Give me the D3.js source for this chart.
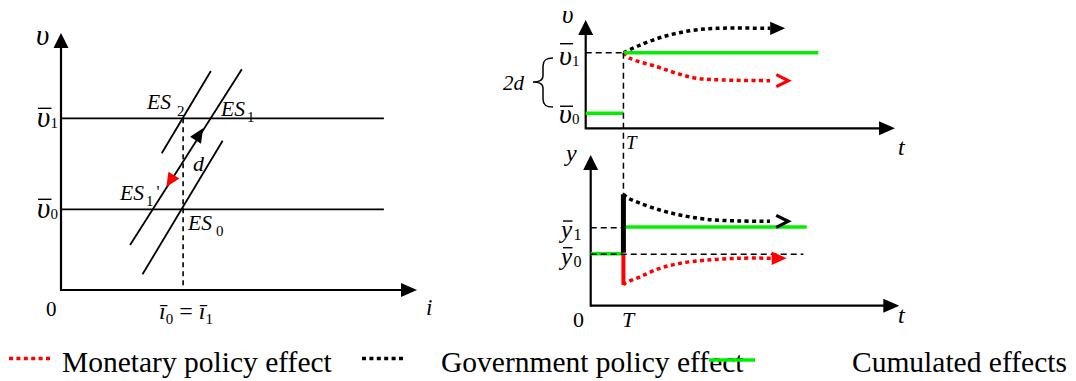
<!DOCTYPE html>
<html><head><meta charset="utf-8">
<script src="https://cdn.jsdelivr.net/npm/d3@7"></script>
<style>body{margin:0;background:#fff} svg{display:block}</style>
</head><body>
<svg id="c" width="1076" height="381"></svg>
<script>
// ---------------- DATA ----------------
// Left panel (i, v) in abstract units 0..10
const leftLevels = [ {name:"0", v:3.14}, {name:"1", v:6.68} ];
const leftLevelEnd = 9.07;
const iBar = 3.43;
const esLines = [
  {name:"ES2", p:[[2.83,5.32],[4.21,8.52]]},
  {name:"ES1", p:[[1.94,1.75],[5.08,8.59]]},
  {name:"ES0", p:[[2.29,0.61],[4.54,5.81]]}
];
const esArrows = [
  {line:"ES1", tip:[3.99,6.29], dir: 1, color:"#000"},
  {line:"ES1", tip:[2.96,4.01], dir:-1, color:"#ff0000"}
];

// Top right panel (t, v)
const topT = 1.22;
const topLevels = {v0:1.39, v1:6.98};
const topGreenEnd = 7.52;
const topGov = [[1.22,6.98],[1.76,7.69],[2.51,8.46],[3.37,9.01],[4.24,9.23],[5.96,9.23]];
const topGovTip = [6.45,9.23];
const topMon = [[1.22,6.98],[1.43,6.46],[2.30,5.69],[2.94,5.08],[3.59,4.62],[4.45,4.46],[5.96,4.40]];
const topMonTip = [6.55,4.40];

// Bottom right panel (t, y)
const botT = 1.06;
const botLevels = {y0:3.45, y1:5.22};
const botGreenEnd = 7.0;
const botDashEnd = 6.89;
const botPeak = 7.39;
const botTrough = 1.37;
const botGov = [[1.06,7.39],[1.22,7.13],[1.60,6.80],[2.24,6.35],[2.89,6.02],[3.76,5.73],[4.84,5.62],[5.81,5.60]];
const botGovTip = [6.40,5.60];
const botMon = [[1.06,1.37],[1.11,1.49],[1.60,1.92],[2.24,2.48],[2.89,2.81],[3.76,3.03],[4.84,3.15],[5.87,3.15]];
const botMonTip = [6.35,3.15];

const legendLabels = ["Monetary policy effect", "Government policy effect", "Cumulated effects"];
const legendColors = ["#ff0000", "#000", "#00f000"];
const legendDashed = [true, true, false];

// ---------------- SETUP ----------------
const svg = d3.select("#c");
const RED = "#ff0000", GREEN = "#00f000", BLK = "#000";
const DOT = "4,3.4";
const xL = d3.scaleLinear().domain([0,10]).range([61,417]);
const yL = d3.scaleLinear().domain([0,10]).range([290,33]);
const xT = d3.scaleLinear().domain([0,10]).range([585.7,895]);
const yT = d3.scaleLinear().domain([0,10]).range([128.3,20]);
const xB = d3.scaleLinear().domain([0,10]).range([590.7,899.3]);
const yB = d3.scaleLinear().domain([0,10]).range([305.7,155]);

function txt(x, y, size, str, italic) {
  const t = svg.append("text").attr("x", x).attr("y", y).attr("font-size", size)
    .style("font-family", "'Liberation Serif'");
  if (italic) t.attr("font-style", "italic");
  return t.text(str);
}
function seg(x1, y1, x2, y2, color, w, dash) {
  return svg.append("line").attr("x1", x1).attr("y1", y1).attr("x2", x2).attr("y2", y2)
    .attr("stroke", color).attr("stroke-width", w).attr("stroke-dasharray", dash || null);
}
const bars = [];
function barSym(x, base, letter, sub, o) {
  txt(x, base, o.size, letter, true);
  const w = o.size * o.wf;
  txt(x + w + (o.subDx||0), base + (o.subDy||0), o.subSize, sub, false);
  bars.push([x + (o.barL||1), base - o.barH, x + w + (o.barR||0)]);
}

// ---------------- TEXTS (first) ----------------
legendLabels.forEach((s, i) => txt([62, 441, 852][i], 372, 29.5, s, false));
txt(36, 45, 29, "υ", true);
leftLevels.forEach(l => barSym(37, yL(l.v) + 9, "υ", l.name, {size:29, wf:0.5, subSize:15, subDx:-1, subDy:1, barH:19}));
txt(46, 316, 21, "0", false);
txt(426, 315, 23, "i", true);
{
  const t = svg.append("text").attr("x", xL(iBar) - 24).attr("y", 319).attr("font-size", 24)
    .style("font-family", "'Liberation Serif'");
  t.append("tspan").attr("font-style","italic").text("ī");
  t.append("tspan").attr("font-size", 15).attr("dy", 5).text("0");
  t.append("tspan").attr("dy", -5).text(" = ");
  t.append("tspan").attr("font-style","italic").text("ī");
  t.append("tspan").attr("font-size", 15).attr("dy", 5).text("1");
}
function esLabel(x, y, sub, extra) {
  const t = svg.append("text").attr("x", x).attr("y", y).attr("font-size", 21.5)
    .style("font-family", "'Liberation Serif'");
  t.append("tspan").attr("font-style","italic").text("ES");
  t.append("tspan").attr("font-size", 15).attr("dx", sub.dx).attr("dy", sub.dy).text(sub.t);
  if (extra) t.append("tspan").attr("font-size", 17).attr("dx", 3).attr("dy", -9).text(extra);
}
esLabel(xL(iBar) - 36, yL(leftLevels[1].v) - 9, {t:"2", dx:6, dy:7});
esLabel(221, yL(leftLevels[1].v) - 2, {t:"1", dx:2, dy:6});
esLabel(120, yL(leftLevels[0].v) - 9, {t:"1", dx:2, dy:6}, "'");
esLabel(xL(iBar) + 5, yL(leftLevels[0].v) + 21, {t:"0", dx:4, dy:6});
txt(193, 171, 22, "d", true);

txt(562, 23, 25, "υ", true);
barSym(559, yT(topLevels.v1) + 12, "υ", "1", {size:28, wf:0.5, subSize:15, subDx:-1, subDy:1, barH:21});
barSym(559, yT(topLevels.v0) + 10, "υ", "0", {size:28, wf:0.5, subSize:15, subDx:-1, subDy:1, barH:17});
txt(503, 90, 21, "2d", true);
txt(626, 149, 19, "T", true);
txt(898, 155, 24, "t", true);

txt(566, 161, 24, "y", true);
barSym(561, yB(botLevels.y1) + 11, "y", "1", {size:25, wf:0.46, subSize:16, subDx:1, subDy:2, barH:17, barL:2});
barSym(561, yB(botLevels.y0) + 11, "y", "0", {size:25, wf:0.46, subSize:16, subDx:1, subDy:2, barH:17, barL:2});
txt(573, 327, 22, "0", false);
txt(622, 327, 22, "T", true);
txt(898, 323, 24, "t", true);

// ---------------- SHAPES ----------------
bars.forEach(b => seg(b[0], b[1], b[2], b[1], BLK, 1.4));

function tri(tip, from, len, hw, color, open) {
  const dx = tip[0]-from[0], dy = tip[1]-from[1], L = Math.hypot(dx,dy);
  const ux = dx/L, uy = dy/L, nx = -uy, ny = ux;
  const bx = tip[0]-ux*len, by = tip[1]-uy*len;
  const a = [bx+nx*hw, by+ny*hw], b = [bx-nx*hw, by-ny*hw];
  if (open) {
    svg.append("path").attr("d", `M${a}L${tip}L${b}`).attr("fill","none")
      .attr("stroke", color).attr("stroke-width", 3.2).attr("stroke-linejoin","miter");
  } else {
    svg.append("path").attr("d", `M${tip}L${a}L${b}Z`).attr("fill", color);
  }
}
function axisLines(xs, ys) {
  const x0 = xs.range()[0], x1 = xs.range()[1], y0 = ys.range()[0], y1 = ys.range()[1];
  seg(x0, y0, x1 - 4, y0, BLK, 2.2);
  seg(x0, y0 + 1, x0, y1 + 4, BLK, 2.2);
  tri([x1, y0], [x0, y0], 16, 7, BLK, false);
  tri([x0, y1], [x0, y0], 15, 7.5, BLK, false);
}

// Left panel
axisLines(xL, yL);
leftLevels.forEach(l => seg(xL(0), yL(l.v), xL(leftLevelEnd), yL(l.v), BLK, 1.8));
seg(xL(iBar), yL(leftLevels[1].v), xL(iBar), yL(0), BLK, 1.6, "5,4");
const lineGen = d3.line().x(d => xL(d[0])).y(d => yL(d[1]));
esLines.forEach(e => {
  svg.append("path").attr("d", lineGen(e.p)).attr("stroke", BLK).attr("stroke-width", 1.8).attr("fill","none");
});
esArrows.forEach(a => {
  const ln = esLines.find(e => e.name === a.line).p;
  const dxp = xL(ln[1][0]) - xL(ln[0][0]), dyp = yL(ln[1][1]) - yL(ln[0][1]);
  const tip = [xL(a.tip[0]), yL(a.tip[1])];
  const from = [tip[0] - a.dir*dxp, tip[1] - a.dir*dyp];
  tri(tip, from, 14, 6.5, a.color, false);
});

// Top right panel
axisLines(xT, yT);
const lT = d3.line().x(d => xT(d[0])).y(d => yT(d[1])).curve(d3.curveCatmullRom);
seg(xT(0), yT(topLevels.v1), xT(topT), yT(topLevels.v1), BLK, 1.5, "6,4");
seg(xT(0), yT(topLevels.v0), xT(topT), yT(topLevels.v0), GREEN, 3.5);
svg.append("path").attr("d", lT(topGov)).attr("fill","none").attr("stroke", BLK).attr("stroke-width", 3.5).attr("stroke-dasharray", DOT);
svg.append("path").attr("d", lT(topMon)).attr("fill","none").attr("stroke", RED).attr("stroke-width", 3.5).attr("stroke-dasharray", DOT);
seg(xT(topT), yT(topLevels.v1), xT(topGreenEnd), yT(topLevels.v1), GREEN, 3.5);
tri([xT(topGovTip[0]), yT(topGovTip[1])], [xT(topGov[5][0]), yT(topGov[5][1])], 15, 6.7, BLK, false);
tri([xT(topMonTip[0]), yT(topMonTip[1])], [xT(topMon[6][0]), yT(topMon[6][1])], 12, 6, RED, true);
svg.append("path").attr("d","M553,58C546,58 543,60 543,66L543,76C543,80 539,82 533,82C539,82 543,84 543,88L543,99C543,105 546,107 553,107")
  .attr("fill","none").attr("stroke", BLK).attr("stroke-width", 1.5);

// Bottom right panel
axisLines(xB, yB);
const lB = d3.line().x(d => xB(d[0])).y(d => yB(d[1])).curve(d3.curveCatmullRom);
seg(xT(topT), yT(topLevels.v1), xT(topT), yB(botPeak), BLK, 1.5, "6,4");
seg(xB(0), yB(botLevels.y0), xB(botT), yB(botLevels.y0), GREEN, 3.5);
seg(xB(botT) + 2, yB(botLevels.y1), xB(botGreenEnd), yB(botLevels.y1), GREEN, 3.5);
seg(xB(0), yB(botLevels.y1) + 0.6, xB(botT), yB(botLevels.y1) + 0.6, BLK, 1.5, "6,4");
seg(xB(0), yB(botLevels.y0) + 0.6, xB(botDashEnd), yB(botLevels.y0) + 0.6, BLK, 1.5, "6,4");
seg(xB(botT), yB(botPeak), xB(botT), yB(botLevels.y0) - 1, BLK, 5);
seg(xB(botT), yB(botLevels.y0) + 1, xB(botT), yB(botTrough), RED, 4);
svg.append("path").attr("d", lB(botGov)).attr("fill","none").attr("stroke", BLK).attr("stroke-width", 3.5).attr("stroke-dasharray", DOT);
svg.append("path").attr("d", lB(botMon)).attr("fill","none").attr("stroke", RED).attr("stroke-width", 3.5).attr("stroke-dasharray", DOT);
tri([xB(botGovTip[0]), yB(botGovTip[1])], [xB(botGov[7][0]), yB(botGov[7][1])], 12, 6, BLK, true);
tri([xB(botMonTip[0]), yB(botMonTip[1])], [xB(botMon[7][0]), yB(botMon[7][1])], 15, 6.7, RED, false);

// Legend samples
const legX = [[9,53],[362,406],[709,755]];
legendLabels.forEach((s, i) => {
  const y = legendDashed[i] ? 358.5 : 360;
  seg(legX[i][0], y, legX[i][1], y, legendColors[i], 3.5, legendDashed[i] ? DOT : null);
});
</script>
</body></html>
